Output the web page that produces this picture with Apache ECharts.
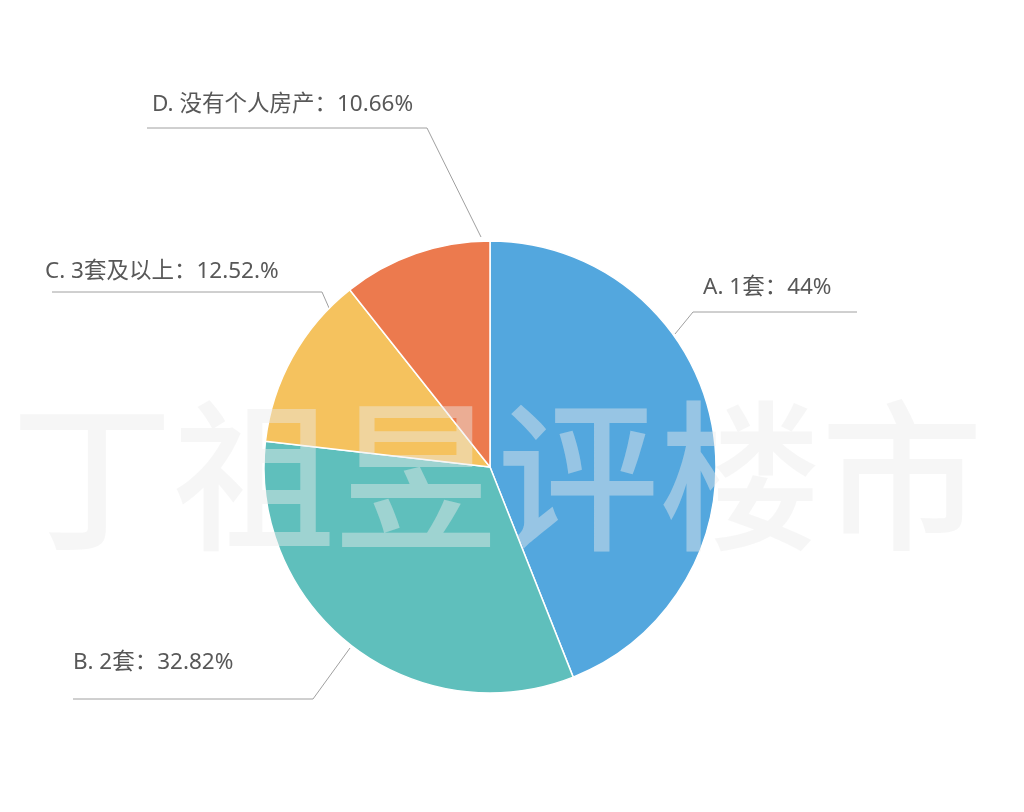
<!DOCTYPE html>
<html>
<head>
<meta charset="utf-8">
<script src="https://cdn.jsdelivr.net/npm/echarts@6/dist/echarts.min.js"></script>
<style>
html,body{margin:0;padding:0;background:#fff;}
#main{width:1024px;height:812px;}
</style>
</head>
<body>
<div id="main"></div>
<script>
const categories = ['A. 1套', 'B. 2套', 'C. 3套及以上', 'D. 没有个人房产'];
const values = [44, 32.82, 12.52, 10.66];
const valueTexts = ['44%', '32.82%', '12.52.%', '10.66%'];
const colors = ['#53a7de', '#5fbfbc', '#f5c25e', '#ec7a4e'];
const watermark = '丁祖昱评楼市';

// label layout: [textX, textY(center), lineStart, elbow, lineEnd]
const labelGeom = [
  {tx: 703, ty: 288, s: [675, 334], e: [693, 312], h: [857, 312]},
  {tx: 73,  ty: 663, s: [350, 648], e: [313, 699], h: [73, 699]},
  {tx: 45,  ty: 272, s: [333, 317], e: [322, 292], h: [52, 292]},
  {tx: 152, ty: 105, s: [481, 237], e: [427, 128], h: [147, 128]}
];

const chart = echarts.init(document.getElementById('main'));
const data = categories.map((c, i) => ({
  name: c, value: values[i], itemStyle: {color: colors[i]}
}));

chart.setOption({
  backgroundColor: '#fff',
  animation: false,
  series: [{
    type: 'pie',
    center: [490, 467],
    radius: 226,
    startAngle: 90,
    clockwise: true,
    data: data,
    itemStyle: {borderColor: '#fff', borderWidth: 1.5},
    label: {
      show: true,
      position: 'outside',
      formatter: (p) => p.name + '：' + valueTexts[p.dataIndex],
      color: '#585858',
      fontSize: 22.5,
      fontFamily: '"Noto Sans", "Noto Sans CJK SC", sans-serif'
    },
    labelLine: {show: true, lineStyle: {color: '#a0a0a0', width: 1}},
    labelLayout: function (params) {
      const g = labelGeom[params.dataIndex];
      return {
        x: g.tx, y: g.ty, align: 'left', verticalAlign: 'middle',
        labelLinePoints: [g.s, g.e, g.h]
      };
    },
    emphasis: {disabled: true}
  }],
  graphic: [{
    type: 'text',
    z: 100,
    silent: true,
    style: {
      text: watermark,
      x: 497, y: 476,
      align: 'center', verticalAlign: 'middle',
      font: '500 162px "Noto Sans CJK SC"',
      fill: 'rgba(235,235,235,0.45)'
    }
  }]
});
</script>
</body>
</html>
